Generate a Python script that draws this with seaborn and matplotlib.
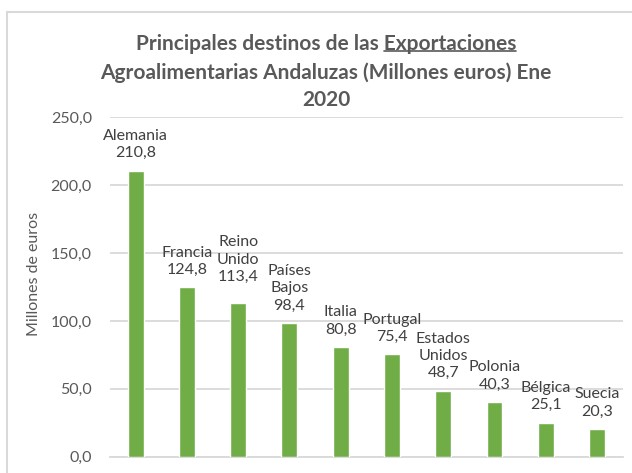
import numpy as np
import pandas as pd
import seaborn as sns
import matplotlib.pyplot as plt
from matplotlib.lines import Line2D

# ---- data ----
countries = ["Alemania", "Francia", "Reino Unido", "Países Bajos", "Italia",
             "Portugal", "Estados Unidos", "Polonia", "Bélgica", "Suecia"]
label_names = ["Alemania", "Francia", "Reino\nUnido", "Países\nBajos", "Italia",
               "Portugal", "Estados\nUnidos", "Polonia", "Bélgica", "Suecia"]
values = [210.8, 124.8, 113.4, 98.4, 80.8, 75.4, 48.7, 40.3, 25.1, 20.3]
yticks = [0, 50, 100, 150, 200, 250]

title_line1_a = "Principales destinos de las "
title_line1_b = "Exportaciones"
title_line2 = "Agroalimentarias Andaluzas (Millones euros) Ene"
title_line3 = "2020"

sns.set_theme(style="white")
plt.rcParams['font.family'] = ['Lato', 'DejaVu Sans']

W, H = 632, 473
fig = plt.figure(figsize=(W / 100, H / 100), dpi=100)
fig.patch.set_facecolor("white")

ax = fig.add_axes([110 / W, (H - 456.7) / H, 512.7 / W, 339.4 / H])
df = pd.DataFrame({"pais": countries, "valor": values})
sns.barplot(data=df, x="pais", y="valor", color="#70AD47", width=0.31,
            saturation=1, ax=ax, zorder=3)

ax.set_ylim(0, 250)
ax.set_xlim(-0.5, len(countries) - 0.5)
ax.set_yticks(yticks)
ax.set_yticklabels([f"{v:.1f}".replace(".", ",") for v in yticks])
ax.yaxis.grid(True, color="#d9d9d9", lw=1.3)
ax.set_axisbelow(True)
for s in ["top", "right", "left"]:
    ax.spines[s].set_visible(False)
ax.spines["bottom"].set_color("#d9d9d9")
ax.spines["bottom"].set_linewidth(1.3)
ax.set_xticks([])
ax.set_xlabel("")
ax.tick_params(axis="y", length=0, pad=13, labelsize=11.5, labelcolor="#595959")
ax.set_ylabel("Millones de euros", fontsize=11.5, color="#595959")
ax.yaxis.set_label_coords((34 - 110) / 512.7, (456.7 - 274) / 339.4)
ax.yaxis.label.set_va("center")

extra = {"Reino Unido": 6}
for i, (c, lab, v) in enumerate(zip(countries, label_names, values)):
    txt = f"{lab}\n{v:.1f}".replace(".", ",")
    ax.annotate(txt, xy=(i, v), xytext=(0, 7.5 + extra.get(c, 0)),
                textcoords="offset points", ha="center", va="bottom",
                fontsize=11.5, color="#404040", linespacing=1.3)

# ---- title ----
tcol = "#595959"
tsize = 15
tx = 326 / W
t2 = fig.text(tx, 1 - 73 / H, title_line2, ha="center", va="center",
              fontsize=tsize, fontweight="bold", color=tcol)
t3 = fig.text(tx, 1 - 100 / H, title_line3, ha="center", va="center",
              fontsize=tsize, fontweight="bold", color=tcol)
t1 = fig.text(tx, 1 - 44 / H, title_line1_a + title_line1_b, ha="center",
              va="center", fontsize=tsize, fontweight="bold", color=tcol)

fig.canvas.draw()
r = fig.canvas.get_renderer()
bb1 = t1.get_window_extent(r)
tmp = fig.text(0, 0, title_line1_b, fontsize=tsize, fontweight="bold")
wb = tmp.get_window_extent(r).width
tmp.remove()
x1 = bb1.x1 / W
x0 = (bb1.x1 - wb) / W
yb = (bb1.y0 + 2.5) / H
fig.add_artist(Line2D([x0, x1], [yb, yb], transform=fig.transFigure,
                      color=tcol, lw=1.2))

# ---- chart border ----
bc = "#d9d9d9"
fig.add_artist(Line2D([7 / W, 1.0], [1 - 12 / H, 1 - 12 / H],
                      transform=fig.transFigure, color=bc, lw=1.5))
fig.add_artist(Line2D([7 / W, 7 / W], [0, 1 - 12 / H],
                      transform=fig.transFigure, color=bc, lw=1.5))

fig.savefig("out.png", dpi=100)
